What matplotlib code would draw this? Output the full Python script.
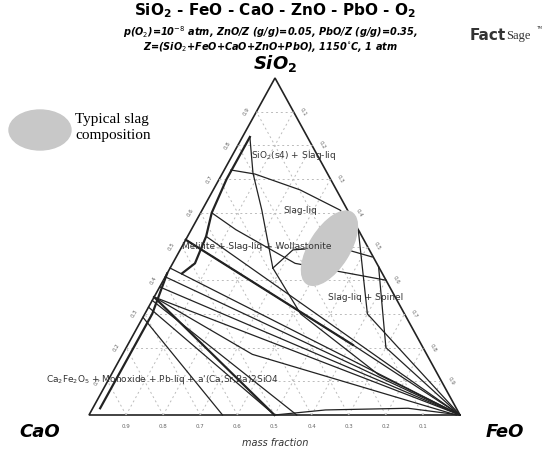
import numpy as np
import matplotlib.pyplot as plt
from matplotlib.patches import Ellipse, Polygon

# corners of the triangle (pixel positions on the figure)
S_PT = (275, 78)
C_PT = (89, 415)
F_PT = (460, 415)

# phase boundaries as (SiO2, FeO) mass fractions
boundaries = [
    [(0.727, 0.018), (0.715, 0.089), (0.668, 0.234), (0.608, 0.372), (0.543, 0.457)],
    [(0.436, 0.277), (0.490, 0.304), (0.499, 0.418), (0.469, 0.528)],
    [(0.825, 0.020), (0.718, 0.082), (0.608, 0.161), (0.436, 0.277)],
    [(0.436, 0.277), (0.30, 0.42), (0.12, 0.72), (0.0, 1.0)],
    [(0.60, 0.030), (0.55, 0.12), (0.45, 0.33), (0.40, 0.60)],
    [(0.52, 0.0), (0.208, 0.607), (0.0, 1.0)],
    [(0.53, 0.05), (0.0, 1.0)],
    [(0.436, 0.0), (0.0, 1.0)],
    [(0.41, 0.0), (0.0, 1.0)],
    [(0.38, 0.0), (0.0, 1.0)],
    [(0.35, 0.0), (0.0, 1.0)],
    [(0.35, 0.0), (0.18, 0.35), (0.0, 0.99)],
    [(0.34, 0.0), (0.0, 0.56)],
    [(0.32, 0.0), (0.0, 0.50)],
    [(0.29, 0.0), (0.0, 0.36)],
    [(0.0, 0.50), (0.015, 0.63), (0.02, 0.85), (0.0, 1.0)],
    [(0.55, 0.45), (0.30, 0.60), (0.0, 1.0)],
    [(0.44, 0.56), (0.20, 0.70), (0.0, 1.0)],
]
thick = [
    [(0.825, 0.020), (0.70, 0.02), (0.60, 0.03), (0.53, 0.05), (0.45, 0.06), (0.42, 0.04)],
    [(0.52, 0.0), (0.208, 0.607)],
    [(0.35, 0.0), (0.0, 0.50)],
    [(0.42, 0.0), (0.30, 0.02), (0.02, 0.02)],
]

slag_center = (0.495, 0.40)
grid_vals = np.arange(0.1, 1.0, 0.1)


def to_xy(s, f):
    c = 1 - s - f
    x = s * S_PT[0] + f * F_PT[0] + c * C_PT[0]
    y = s * S_PT[1] + f * F_PT[1] + c * C_PT[1]
    return x, y


def draw_path(ax, pts, lw):
    xy = [to_xy(s, f) for s, f in pts]
    ax.plot([p[0] for p in xy], [p[1] for p in xy], color='#222222', lw=lw)


def seg(ax, a, b, **kw):
    p1, p2 = to_xy(*a), to_xy(*b)
    ax.plot([p1[0], p2[0]], [p1[1], p2[1]], **kw)


fig = plt.figure(figsize=(5.5, 4.55), dpi=100)
ax = fig.add_axes([0, 0, 1, 1])
ax.set_xlim(0, 550)
ax.set_ylim(455, 0)
ax.axis('off')

# dashed grid
gkw = dict(ls=(0, (2, 3)), color='#bbbbbb', lw=0.7)
for v in grid_vals:
    seg(ax, (v, 0), (v, 1 - v), **gkw)
    seg(ax, (0, v), (1 - v, v), **gkw)
    seg(ax, (0, 1 - v), (1 - v, 0), **gkw)

ax.add_patch(Polygon([S_PT, C_PT, F_PT], closed=True, fill=False, ec='#222222', lw=1.2))

# tick labels
for v in grid_vals:
    x, y = to_xy(0, 1 - v)
    ax.text(x, y + 11, f"{v:.1f}", fontsize=4, color='#666666', ha='center', va='center')
    x, y = to_xy(v, 0)
    ax.text(x - 10, y, f"{v:.1f}", fontsize=4, color='#666666', ha='center', va='center', rotation=60)
    x, y = to_xy(1 - v, v)
    ax.text(x + 10, y, f"{v:.1f}", fontsize=4, color='#666666', ha='center', va='center', rotation=-60)

for pts in boundaries:
    draw_path(ax, pts, 0.9)
for pts in thick:
    draw_path(ax, pts, 1.6)

cx, cy = to_xy(*slag_center)
ax.add_patch(Ellipse((cx, cy), 40, 84, angle=32, color='#c8c8c8', zorder=3))
ax.add_patch(Ellipse((40, 130), 62, 40, color='#c8c8c8'))
ax.text(75, 128, "Typical slag\ncomposition", family='Liberation Serif', fontsize=11,
        va='center', linespacing=1.3)

lab = dict(fontsize=6.5, color='#333333', zorder=4)
ax.text(*to_xy(0.77, 0.05), r"SiO$_2$(s4) + Slag-liq", **lab, va='center')
ax.text(*to_xy(0.60, 0.27), "Slag-liq", **lab, ha='center')
ax.text(*to_xy(0.50, 0.0), "Melilite + Slag-liq + Wollastonite", **lab, va='center')
ax.text(*to_xy(0.35, 0.47), "Slag-liq + Spinel", **lab, va='center')
ax.text(46, 380, r"Ca$_2$Fe$_2$O$_5$ + Monoxide + Pb-liq + a'(Ca,Sr,Ba)2SiO4", **lab, va='center')

ax.text(275, 11, r"SiO$_\mathbf{2}$ - FeO - CaO - ZnO - PbO - O$_\mathbf{2}$", fontsize=11,
        fontweight='bold', ha='center', va='center')
ax.text(270, 39, "p(O$_2$)=10$^{-8}$ atm, ZnO/Z (g/g)=0.05, PbO/Z (g/g)=0.35,\n"
        "Z=(SiO$_2$+FeO+CaO+ZnO+PbO), 1150$^{\\circ}$C, 1 atm", fontsize=7,
        fontstyle='italic', fontweight='bold', ha='center', va='center', linespacing=0.95)
ax.text(275, 63, r"SiO$_\mathbf{2}$", fontsize=13, fontweight='bold', fontstyle='italic',
        ha='center', va='center')
ax.text(40, 432, "CaO", fontsize=13, fontweight='bold', fontstyle='italic', ha='center', va='center')
ax.text(505, 432, "FeO", fontsize=13, fontweight='bold', fontstyle='italic', ha='center', va='center')
ax.text(275, 443, "mass fraction", fontsize=7, fontstyle='italic', color='#333333',
        ha='center', va='center')
ax.text(470, 35, "Fact", fontsize=11, fontweight='heavy', color='#333333', ha='left', va='center')
ax.text(506, 36, "Sage", fontsize=9, family='Liberation Serif', color='#333333', ha='left', va='center')
ax.text(536, 28, "TM", fontsize=3, color='#333333', ha='left', va='center')

fig.savefig("out.png", dpi=100)
